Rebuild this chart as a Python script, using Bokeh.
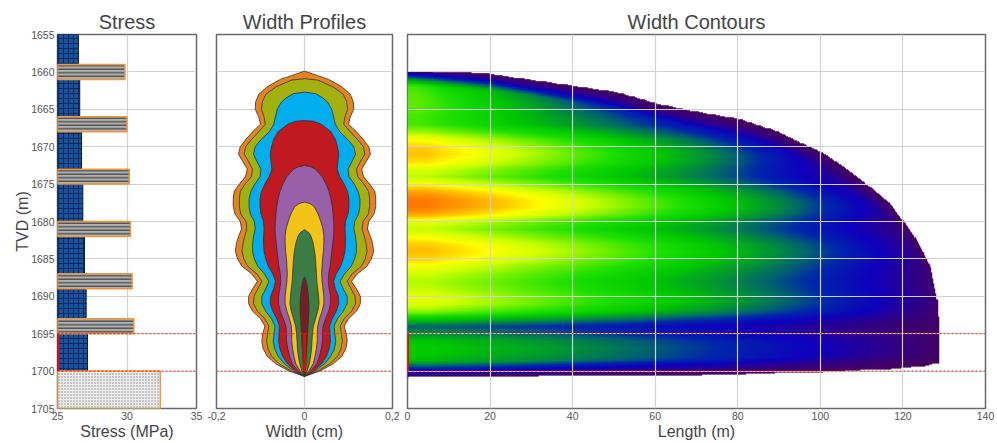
import numpy as np
from bokeh.plotting import figure
from bokeh.layouts import row
from bokeh.models import FixedTicker, LinearColorMapper, Range1d, Span
from bokeh.embed import file_html
from bokeh.resources import INLINE

FONT = "Liberation Sans"

# ---------------- data ----------------
depth_ticks = [1655, 1660, 1665, 1670, 1675, 1680, 1685, 1690, 1695, 1700, 1705]
perf_top, perf_bot = 1695, 1700

# stress layers
layer_top = [1655, 1659, 1661, 1666, 1668, 1673, 1675, 1680, 1682, 1687, 1689, 1693, 1695, 1700]
layer_bot = [1659, 1661, 1666, 1668, 1673, 1675, 1680, 1682, 1687, 1689, 1693, 1695, 1700, 1705]
layer_stress = [26.5, 29.85, 26.6, 30.0, 26.73, 30.16, 26.82, 30.25, 26.94, 30.37, 27.06, 30.49, 27.16, 32.4]
layer_kind = ["sand", "shale", "sand", "shale", "sand", "shale", "sand", "shale",
              "sand", "shale", "sand", "shale", "sand", "tight"]
stress_ticks = [25, 30, 35]

# width profiles (depth m, half width cm), outer -> inner
prof_orange = [(1659.9, 0), (1660.5, 0.03), (1661, 0.055), (1662, 0.085), (1663, 0.104), (1664, 0.111),
               (1665, 0.112), (1666, 0.104), (1667, 0.100), (1668, 0.118), (1669, 0.133), (1670, 0.146),
               (1671, 0.150), (1672, 0.140), (1673, 0.130), (1674, 0.134), (1675, 0.148), (1676, 0.160),
               (1677, 0.162), (1678, 0.162), (1679, 0.158), (1680, 0.146), (1681, 0.143), (1682, 0.150),
               (1683, 0.155), (1684, 0.157), (1685, 0.152), (1686, 0.142), (1687, 0.120), (1688, 0.107),
               (1689, 0.118), (1690, 0.127), (1691, 0.127), (1692, 0.118), (1693, 0.100), (1694, 0.090),
               (1695, 0.095), (1696, 0.097), (1697, 0.094), (1698, 0.085), (1699, 0.066), (1700, 0.035),
               (1700.7, 0)]
prof_olive = [(1660.9, 0), (1661.1, 0.03), (1662, 0.065), (1663, 0.088), (1664, 0.096), (1665, 0.098),
              (1666, 0.092), (1667, 0.089), (1668, 0.104), (1669, 0.120), (1670, 0.134), (1671, 0.137),
              (1672, 0.127), (1673, 0.118), (1674, 0.121), (1675, 0.135), (1676, 0.146), (1677, 0.148),
              (1678, 0.148), (1679, 0.145), (1680, 0.133), (1681, 0.131), (1682, 0.136), (1683, 0.140),
              (1684, 0.142), (1685, 0.138), (1686, 0.129), (1687, 0.108), (1688, 0.097), (1689, 0.106),
              (1690, 0.115), (1691, 0.116), (1692, 0.107), (1693, 0.090), (1694, 0.081), (1695, 0.084),
              (1696, 0.086), (1697, 0.083), (1698, 0.075), (1699, 0.058), (1700, 0.030), (1700.7, 0)]
prof_cyan = [(1662.7, 0), (1662.9, 0.025), (1663.5, 0.042), (1664, 0.052), (1665, 0.062), (1666, 0.066),
             (1667, 0.070), (1668, 0.080), (1669, 0.098), (1670, 0.112), (1671, 0.116), (1672, 0.108),
             (1673, 0.099), (1674, 0.101), (1675, 0.113), (1676, 0.122), (1677, 0.126), (1678, 0.126),
             (1679, 0.123), (1680, 0.114), (1681, 0.112), (1682, 0.116), (1683, 0.118), (1684, 0.118),
             (1685, 0.114), (1686, 0.106), (1687, 0.091), (1688, 0.081), (1689, 0.088), (1690, 0.097),
             (1691, 0.097), (1692, 0.088), (1693, 0.075), (1694, 0.067), (1695, 0.069), (1696, 0.071),
             (1697, 0.068), (1698, 0.060), (1699, 0.046), (1700, 0.024), (1700.7, 0)]
prof_red = [(1666.5, 0), (1666.6, 0.02), (1667, 0.038), (1668, 0.060), (1669, 0.070), (1670, 0.075),
            (1671, 0.078), (1672, 0.076), (1673, 0.074), (1674, 0.080), (1675, 0.090), (1676, 0.098),
            (1677, 0.101), (1678, 0.101), (1679, 0.099), (1680, 0.093), (1681, 0.092), (1682, 0.093),
            (1683, 0.093), (1684, 0.092), (1685, 0.088), (1686, 0.082), (1687, 0.072), (1688, 0.066),
            (1689, 0.070), (1690, 0.077), (1691, 0.078), (1692, 0.072), (1693, 0.063), (1694, 0.057),
            (1695, 0.058), (1696, 0.059), (1697, 0.056), (1698, 0.050), (1699, 0.039), (1700, 0.020),
            (1700.7, 0)]
prof_purple = [(1672.5, 0), (1672.7, 0.015), (1673, 0.025), (1674, 0.040), (1675, 0.049), (1676, 0.056),
               (1677, 0.060), (1678, 0.063), (1679, 0.065), (1680, 0.066), (1681, 0.067), (1682, 0.066),
               (1683, 0.064), (1684, 0.062), (1685, 0.060), (1686, 0.058), (1687, 0.055), (1688, 0.054),
               (1689, 0.056), (1690, 0.059), (1691, 0.059), (1692, 0.055), (1693, 0.048), (1694, 0.042),
               (1695, 0.041), (1696, 0.041), (1697, 0.038), (1698, 0.034), (1699, 0.028), (1700, 0.014),
               (1700.7, 0)]
prof_yellow = [(1677.4, 0), (1677.6, 0.012), (1678, 0.022), (1679, 0.031), (1680, 0.037), (1681, 0.042),
               (1682, 0.044), (1683, 0.044), (1684, 0.043), (1685, 0.041), (1686, 0.040), (1687, 0.039),
               (1688, 0.040), (1689, 0.042), (1690, 0.044), (1691, 0.044), (1692, 0.040), (1693, 0.034),
               (1694, 0.030), (1695, 0.029), (1696, 0.029), (1697, 0.027), (1698, 0.024), (1699, 0.020),
               (1700, 0.010), (1700.7, 0)]
prof_dkgreen = [(1681.1, 0), (1681.5, 0.010), (1682, 0.015), (1683, 0.020), (1684, 0.023), (1685, 0.025),
                (1686, 0.026), (1687, 0.027), (1688, 0.028), (1689, 0.030), (1690, 0.032), (1691, 0.033),
                (1692, 0.030), (1693, 0.025), (1694, 0.020), (1695, 0.018), (1696, 0.017), (1697, 0.016),
                (1698, 0.014), (1699, 0.011), (1700, 0.006), (1700.7, 0)]
prof_dkred = [(1687.4, 0), (1688, 0.004), (1689, 0.007), (1690, 0.009), (1691, 0.010), (1692, 0.010),
              (1693, 0.009), (1694, 0.008), (1695, 0.007), (1696, 0.006), (1697, 0.005), (1698, 0.004),
              (1699, 0.003), (1700, 0.002), (1700.7, 0)]
profiles = [prof_orange, prof_olive, prof_cyan, prof_red, prof_purple, prof_yellow, prof_dkgreen, prof_dkred]
profile_colors = ["#e8821e", "#a3b10f", "#00aeef", "#c0191f", "#9860a8", "#f2c417", "#3b7d45", "#7a1c24"]
width_ticks = [-0.2, 0, 0.2]
width_labels = {-0.2: "-0,2", 0: "0", 0.2: "0,2"}

# width contours: fracture outline and colour level at the wellbore
top_edge_L = [0, 6, 20, 23, 31, 40, 51, 60.5, 68.5, 72.5, 80, 89, 101, 109, 117, 123.4, 126.7, 128.3, 128.7]
top_edge_d = [1659.8, 1659.9, 1660.2, 1660.5, 1661.1, 1661.8, 1662.7, 1664.2, 1665.1, 1665.5, 1666.2,
              1667.8, 1670.9, 1674.0, 1677.6, 1682.5, 1686.0, 1690.5, 1694.9]
bot_edge_L = [0, 26, 43, 71, 77, 93, 105, 117, 125, 128.7]
bot_edge_d = [1700.8, 1700.75, 1700.6, 1700.5, 1700.47, 1700.24, 1700.02, 1699.71, 1699.36, 1698.9]
wb_depth = [1659.8, 1661, 1662, 1663, 1664, 1665, 1666, 1667, 1668, 1669, 1670, 1671, 1672, 1673, 1674,
            1675, 1676, 1677, 1678, 1679, 1680, 1681, 1682, 1683, 1684, 1685, 1686, 1687, 1688, 1689,
            1690, 1691, 1692, 1693, 1694, 1695, 1696, 1697, 1698, 1699, 1700, 1700.8]
wb_level = [0.5, 0.5, 0.5, 0.52, 0.53, 0.52, 0.5, 0.5, 0.6, 0.73, 0.81, 0.83, 0.78, 0.68, 0.63,
            0.74, 0.88, 0.97, 0.97, 0.88, 0.7, 0.64, 0.72, 0.81, 0.84, 0.8, 0.72, 0.66, 0.62, 0.64,
            0.69, 0.68, 0.58, 0.38, 0.22, 0.28, 0.36, 0.38, 0.36, 0.32, 0.28, 0.25]
length_ticks = [0, 20, 40, 60, 80, 100, 120, 140]

cmap_pos = [0.0, 0.05, 0.1, 0.17, 0.22, 0.28, 0.36, 0.46, 0.56, 0.65, 0.74, 0.82, 0.91, 1.0]
cmap_r = [70, 45, 15, 0, 0, 0, 0, 30, 120, 205, 255, 255, 255, 255]
cmap_g = [0, 0, 0, 40, 100, 150, 200, 225, 242, 255, 255, 200, 150, 110]
cmap_b = [95, 140, 190, 170, 110, 50, 0, 0, 0, 0, 0, 0, 0, 0]

# ---------------- helpers ----------------
def make_fig(xr, xticks, title, xlabel, width, bl, br, show_y):
    p = figure(width=width, height=442, x_range=Range1d(*xr), y_range=Range1d(1705, 1655),
               output_backend="svg", toolbar_location=None,
               min_border_left=bl, min_border_right=br, min_border_top=34, min_border_bottom=33)
    p.title.text = title
    p.title.align = "center"
    p.title.text_font = FONT
    p.title.text_font_size = "20px"
    p.title.text_font_style = "normal"
    p.title.text_color = "#444444"
    p.title.standoff = 3
    p.outline_line_color = "#6a6a6a"
    p.outline_line_width = 1.5
    p.background_fill_color = "white"
    p.border_fill_color = "white"
    p.xaxis.ticker = FixedTicker(ticks=xticks)
    p.xgrid.ticker = FixedTicker(ticks=xticks)
    p.ygrid.ticker = FixedTicker(ticks=depth_ticks)
    p.yaxis.ticker = FixedTicker(ticks=depth_ticks)
    for g in (p.xgrid, p.ygrid):
        g.grid_line_color = "#d2d2d2"
        g.grid_line_width = 1.2
    for ax in (p.xaxis, p.yaxis):
        ax.axis_line_color = None
        ax.major_tick_line_color = None
        ax.minor_tick_line_color = None
        ax.major_tick_out = 0
        ax.major_tick_in = 0
        ax.major_label_text_font = FONT
        ax.major_label_text_font_size = "10.5px"
        ax.major_label_text_color = "#555555"
        ax.major_label_standoff = 3
        ax.axis_label_text_font = FONT
        ax.axis_label_text_font_size = "16px"
        ax.axis_label_text_font_style = "normal"
        ax.axis_label_text_color = "#444444"
    p.xaxis.axis_label = xlabel
    p.xaxis.axis_label_standoff = 0
    if show_y:
        p.yaxis.axis_label = "TVD (m)"
        p.yaxis.axis_label_standoff = -3
    else:
        p.yaxis.visible = False
    return p

def add_perf(p, x0, lw):
    for loc in (perf_top, perf_bot):
        p.add_layout(Span(location=loc, dimension="width", line_color="#ff2020",
                          line_dash="2 2", line_width=1, level="overlay"))
    p.segment(x0=[x0], y0=[perf_top], x1=[x0], y1=[perf_bot], line_color="#ff0000", line_width=lw)

# ---------------- panel 1: stress ----------------
p1 = make_fig((25, 35), stress_ticks, "Stress", "Stress (MPa)", 206, 57, 10, True)
for kind in ("sand", "shale", "tight"):
    idx = [i for i, k in enumerate(layer_kind) if k == kind]
    src = dict(top=[layer_top[i] for i in idx], bottom=[layer_bot[i] for i in idx],
               right=[layer_stress[i] for i in idx], left=[25] * len(idx))
    if kind == "sand":
        p1.quad(**src, fill_color="#1553a3", line_color="#101828", line_width=1,
                hatch_pattern="+", hatch_color="#0a2550", hatch_scale=5, hatch_weight=0.9)
    elif kind == "shale":
        p1.quad(**src, fill_color="#b0b0b0", line_color="#f0963a", line_width=1.5,
                hatch_pattern="-", hatch_color="#4e4e4e", hatch_scale=3.5, hatch_weight=1.4)
    else:
        p1.quad(**src, fill_color="#ececec", line_color="#f0963a", line_width=1.5,
                hatch_pattern=".", hatch_color="#8a8a8a", hatch_scale=3, hatch_weight=0.8)
add_perf(p1, 25, 3.5)

# ---------------- panel 2: width profiles ----------------
p2 = make_fig((-0.2, 0.2), width_ticks, "Width Profiles", "Width (cm)", 193, 10, 7, False)
p2.xaxis.major_label_overrides = width_labels
for prof, col in zip(profiles, profile_colors):
    d = [q[0] for q in prof]
    w = [q[1] for q in prof]
    xs = w + [-v for v in w[::-1]]
    ys = d + d[::-1]
    p2.patch(xs, ys, fill_color=col, line_color="#303030", line_width=0.8)
add_perf(p2, 0, 2.5)

# ---------------- panel 3: width contours ----------------
p3 = make_fig((0, 140), length_ticks, "Width Contours", "Length (m)", 597, 8, 11, False)
Lg = np.arange(0, 130.001, 0.25)
dg = np.arange(1659.5, 1701.001, 0.1)
LL, DD = np.meshgrid(Lg, dg)
top = np.interp(LL, top_edge_L, top_edge_d)
bot = np.interp(LL, bot_edge_L, bot_edge_d)
tip_len = np.interp(DD, top_edge_d, top_edge_L)      # fracture length reached at each depth
lev0 = np.interp(DD, wb_depth, wb_level)
decay = np.clip(1.04 * (1 - LL / (tip_len + 5.0)), 0, 1)
edge = np.clip(np.minimum(DD - top, bot - DD) / 2.1, 0, 1)
field = lev0 * decay * edge
inside = (DD >= top) & (DD <= bot) & (LL <= 128.7)
field = np.where(inside, field, np.nan)

t = np.linspace(0, 1, 256)
rr = np.interp(t, cmap_pos, cmap_r)
gg = np.interp(t, cmap_pos, cmap_g)
bb = np.interp(t, cmap_pos, cmap_b)
palette = ["#%02x%02x%02x" % (int(a), int(b), int(c)) for a, b, c in zip(rr, gg, bb)]
mapper = LinearColorMapper(palette=palette, low=0, high=1, nan_color="#00000000")
p3.image(image=[field], x=0, y=1659.5, dw=130, dh=41.5, color_mapper=mapper, level="image")
add_perf(p3, 0, 3)

layout = row(p1, p2, p3, spacing=0)
open("out.html", "w").write(file_html(layout, INLINE))
